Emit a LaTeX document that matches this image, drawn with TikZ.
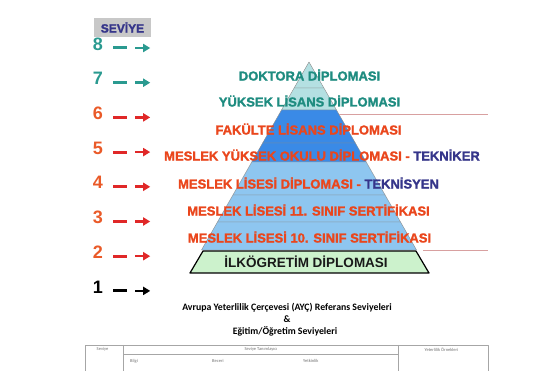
\documentclass[tikz,border=0pt]{standalone}
\usepackage{fontspec}
\setmainfont{Liberation Sans}
\newfontfamily\heavyfont[FakeBold=1.6]{Liberation Sans Bold}
\newfontfamily\calibri{Carlito}
\usetikzlibrary{arrows.meta}
\definecolor{tealtxt}{HTML}{1E8C80}
\definecolor{redtxt}{HTML}{EA461C}
\definecolor{navytxt}{HTML}{35358A}
\definecolor{toplayer}{HTML}{B4E0E2}
\definecolor{midlayer}{HTML}{3A8AE6}
\definecolor{lowlayer}{HTML}{8EC6F0}
\definecolor{baselayer}{HTML}{CCF2CC}
\definecolor{redarr}{HTML}{E02828}
\definecolor{numred}{HTML}{EA5A28}
\definecolor{tealarr}{HTML}{2A9A90}
\definecolor{pinkline}{HTML}{D8A0A0}
\definecolor{boxgray}{HTML}{C8C8C8}
\begin{document}
\begin{tikzpicture}[x=1pt,y=-1pt,line join=round,
    level/.style={font=\heavyfont\fontsize{13}{13}\selectfont,inner sep=0pt},
    num/.style={font=\fontsize{18}{18}\selectfont\bfseries,inner sep=0pt},
    title/.style={font=\calibri\bfseries\fontsize{9.8}{10}\selectfont,inner sep=0pt},
    tiny/.style={font=\calibri\fontsize{4.5}{5}\selectfont,text=black!55,inner sep=0pt}]
    \useasboundingbox[fill=white] (0,0) rectangle (550,371);
    \def\k{0.572}
    % pyramid bands
    \foreach \ya/\yb/\c in {62/88/toplayer,88/110/toplayer,110/143/midlayer,143/162/midlayer,162/195/lowlayer,195/222/lowlayer,222/250/lowlayer}
        \filldraw[fill=\c,draw=black!45,line width=0.4pt] ({309-(\ya-62)*\k},\ya) -- ({309+(\ya-62)*\k},\ya) -- ({309+(\yb-62)*\k},\yb) -- ({309-(\yb-62)*\k},\yb) -- cycle;
    \filldraw[fill=baselayer,line width=1.2pt] (203,251) -- (416,251) -- (429,273) -- (190,273) -- cycle;
    \draw[pinkline,line width=0.6pt] (339,114) -- (488,114) (423,250) -- (488,250);
    % labels in the pyramid
    \node[level,text=tealtxt] (doktora) at (309.5,75) {DOKTORA DİPLOMASI};
    \node[level,text=tealtxt] (ylisans) at (309.5,101) {YÜKSEK LİSANS DİPLOMASI};
    \node[level,text=redtxt] (fakulte) at (308.5,129) {FAKÜLTE LİSANS DİPLOMASI};
    \node[level,text=redtxt] (myo) at (322,155) {MESLEK YÜKSEK OKULU DİPLOMASI - \textcolor{navytxt}{TEKNİKER}};
    \node[level,text=redtxt] (mlise) at (308.5,183) {MESLEK LİSESİ DİPLOMASI - \textcolor{navytxt}{TEKNİSYEN}};
    \node[level,text=redtxt] (sinif11) at (308.5,210) {MESLEK LİSESİ 11. SINIF SERTİFİKASI};
    \node[level,text=redtxt] (sinif10) at (309.5,237) {MESLEK LİSESİ 10. SINIF SERTİFİKASI};
    \node[inner sep=0pt,font=\fontsize{13.5}{14}\selectfont\bfseries,text=black!90] (ilkogretim) at (306,262) {İLKÖGRETİM DİPLOMASI};
    % level column
    \node[fill=boxgray,minimum width=57pt,minimum height=19pt,inner sep=0pt,text=navytxt,font=\heavyfont\fontsize{12}{12}\selectfont] (seviye) at (122.5,27.5) {SEVİYE};
    \foreach \n/\c/\a in {8/tealarr/tealarr,7/tealarr/tealarr,6/numred/redarr,5/numred/redarr,4/numred/redarr,3/numred/redarr,2/numred/redarr,1/black/black}{
        \pgfmathsetmacro\yy{44+(8-\n)*34.7}
        \node[num,text=\c] (lv\n) at (98,\yy) {\n};
        \draw[\a,line width=3pt] ([xshift=10pt,yshift=-4pt]lv\n.east) -- ++(14,0);
        \draw[\a,line width=2.6pt,-{Triangle[length=7pt,width=8pt]}] ([xshift=32pt,yshift=-4pt]lv\n.east) -- ++(15,0);
    }
    % caption and table head
    \node[title] (ayc) at (287,308) {Avrupa Yeterlilik Çerçevesi (AYÇ) Referans Seviyeleri};
    \node[title] (amp) at (287,319.5) {\&};
    \node[title] (egitim) at (285,331) {Eğitim/Öğretim Seviyeleri};
    \draw[black!35,line width=0.5pt] (85,371) -- (85,345) -- (488,345) -- (488,371) (123,345) -- (123,371) (398,345) -- (398,371) (123,354) -- (398,354);
    \path (102.5,349.5) node[tiny] (hseviye) {Seviye}
        (261,349.5) node[tiny] (htanim) {Seviye Tanımlayıcı}
        (441.5,349.5) node[tiny] (hornek) {Yeterlilik Örnekleri}
        (130,361) node[tiny,anchor=west] (hbilgi) {Bilgi}
        (212,361) node[tiny,anchor=west] (hbeceri) {Beceri}
        (303,361) node[tiny,anchor=west] (hyetkin) {Yetkinlik};
\end{tikzpicture}
\end{document}
